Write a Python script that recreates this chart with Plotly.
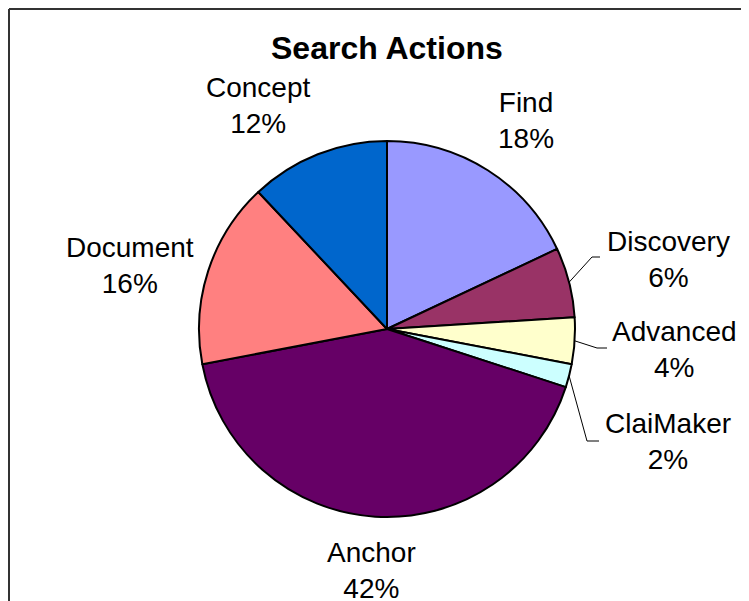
import math
import plotly.graph_objects as go

# ---- data ----
categories = ["Find", "Discovery", "Advanced", "ClaiMaker", "Anchor", "Document", "Concept"]
values = [18, 6, 4, 2, 42, 16, 12]
pct_labels = ["18%", "6%", "4%", "2%", "42%", "16%", "12%"]
colors = ["#9999FF", "#993366", "#FFFFCC", "#CCFFFF", "#660066", "#FF8080", "#0066CC"]

# ---- layout geometry (screen pixels; page body has an 8px margin) ----
OFF = 8
W, H = 749 - OFF, 601 - OFF
CX, CY, R = 387, 329, 188
label_pos = {
    "Find": (526, 120),
    "Discovery": (668, 259),
    "Advanced": (674, 349),
    "ClaiMaker": (668, 441),
    "Anchor": (371, 570),
    "Document": (130, 266),
    "Concept": (258, 105),
}
# elbow and end points of leader lines (screen pixels)
leaders = {
    "Discovery": [(592, 257), (600, 257)],
    "Advanced": [(597, 348), (607, 348)],
    "ClaiMaker": [(587, 441), (599, 441)],
}


def px(x, y):
    return (x - OFF) / W, 1 - (y - OFF) / H


x0d, y1d = px(CX - R, CY - R)
x1d, y0d = px(CX + R, CY + R)

fig = go.Figure(
    go.Pie(
        labels=categories,
        values=values,
        sort=False,
        direction="clockwise",
        rotation=0,
        marker=dict(colors=colors, line=dict(color="black", width=2)),
        textinfo="none",
        hoverinfo="label+percent",
        showlegend=False,
        domain=dict(x=[x0d, x1d], y=[y0d, y1d]),
    )
)

annotations = []
for cat, pct in zip(categories, pct_labels):
    ax, ay = px(*label_pos[cat])
    annotations.append(
        dict(
            x=ax, y=ay, xref="paper", yref="paper",
            text=f"{cat}<br>{pct}", showarrow=False,
            font=dict(family="Liberation Sans, Arial", size=28, color="black"),
            align="center", xanchor="center", yanchor="middle",
        )
    )
tx, ty = px(387, 48)
annotations.append(
    dict(
        x=tx, y=ty, xref="paper", yref="paper",
        text="<b>Search Actions</b>", showarrow=False,
        font=dict(family="Liberation Sans, Arial", size=32, color="black"),
        xanchor="center", yanchor="middle",
    )
)

shapes = []
# leader lines from slice mid-angle on the rim
total = sum(values)
cum = 0
for cat, v in zip(categories, values):
    mid = (cum + v / 2) / total * 2 * math.pi
    cum += v
    if cat in leaders:
        sx = CX + R * math.sin(mid)
        sy = CY - R * math.cos(mid)
        pts = [(sx, sy)] + leaders[cat]
        path = "M " + " L ".join(f"{px(a, b)[0]},{px(a, b)[1]}" for a, b in pts)
        shapes.append(dict(type="path", xref="paper", yref="paper", path=path,
                           line=dict(color="black", width=1)))

# chart frame (top and left edges visible)
fx, fy = 1 / W, 1 - 1 / H
shapes.append(dict(type="line", xref="paper", yref="paper",
                   x0=fx, y0=fy, x1=1, y1=fy,
                   line=dict(color="#333333", width=2)))
shapes.append(dict(type="line", xref="paper", yref="paper",
                   x0=fx, y0=fy, x1=fx, y1=0,
                   line=dict(color="#333333", width=2)))

fig.update_layout(
    width=W, height=H,
    margin=dict(l=0, r=0, t=0, b=0),
    paper_bgcolor="white",
    plot_bgcolor="white",
    annotations=annotations,
    shapes=shapes,
)

fig.write_html("out.html")
